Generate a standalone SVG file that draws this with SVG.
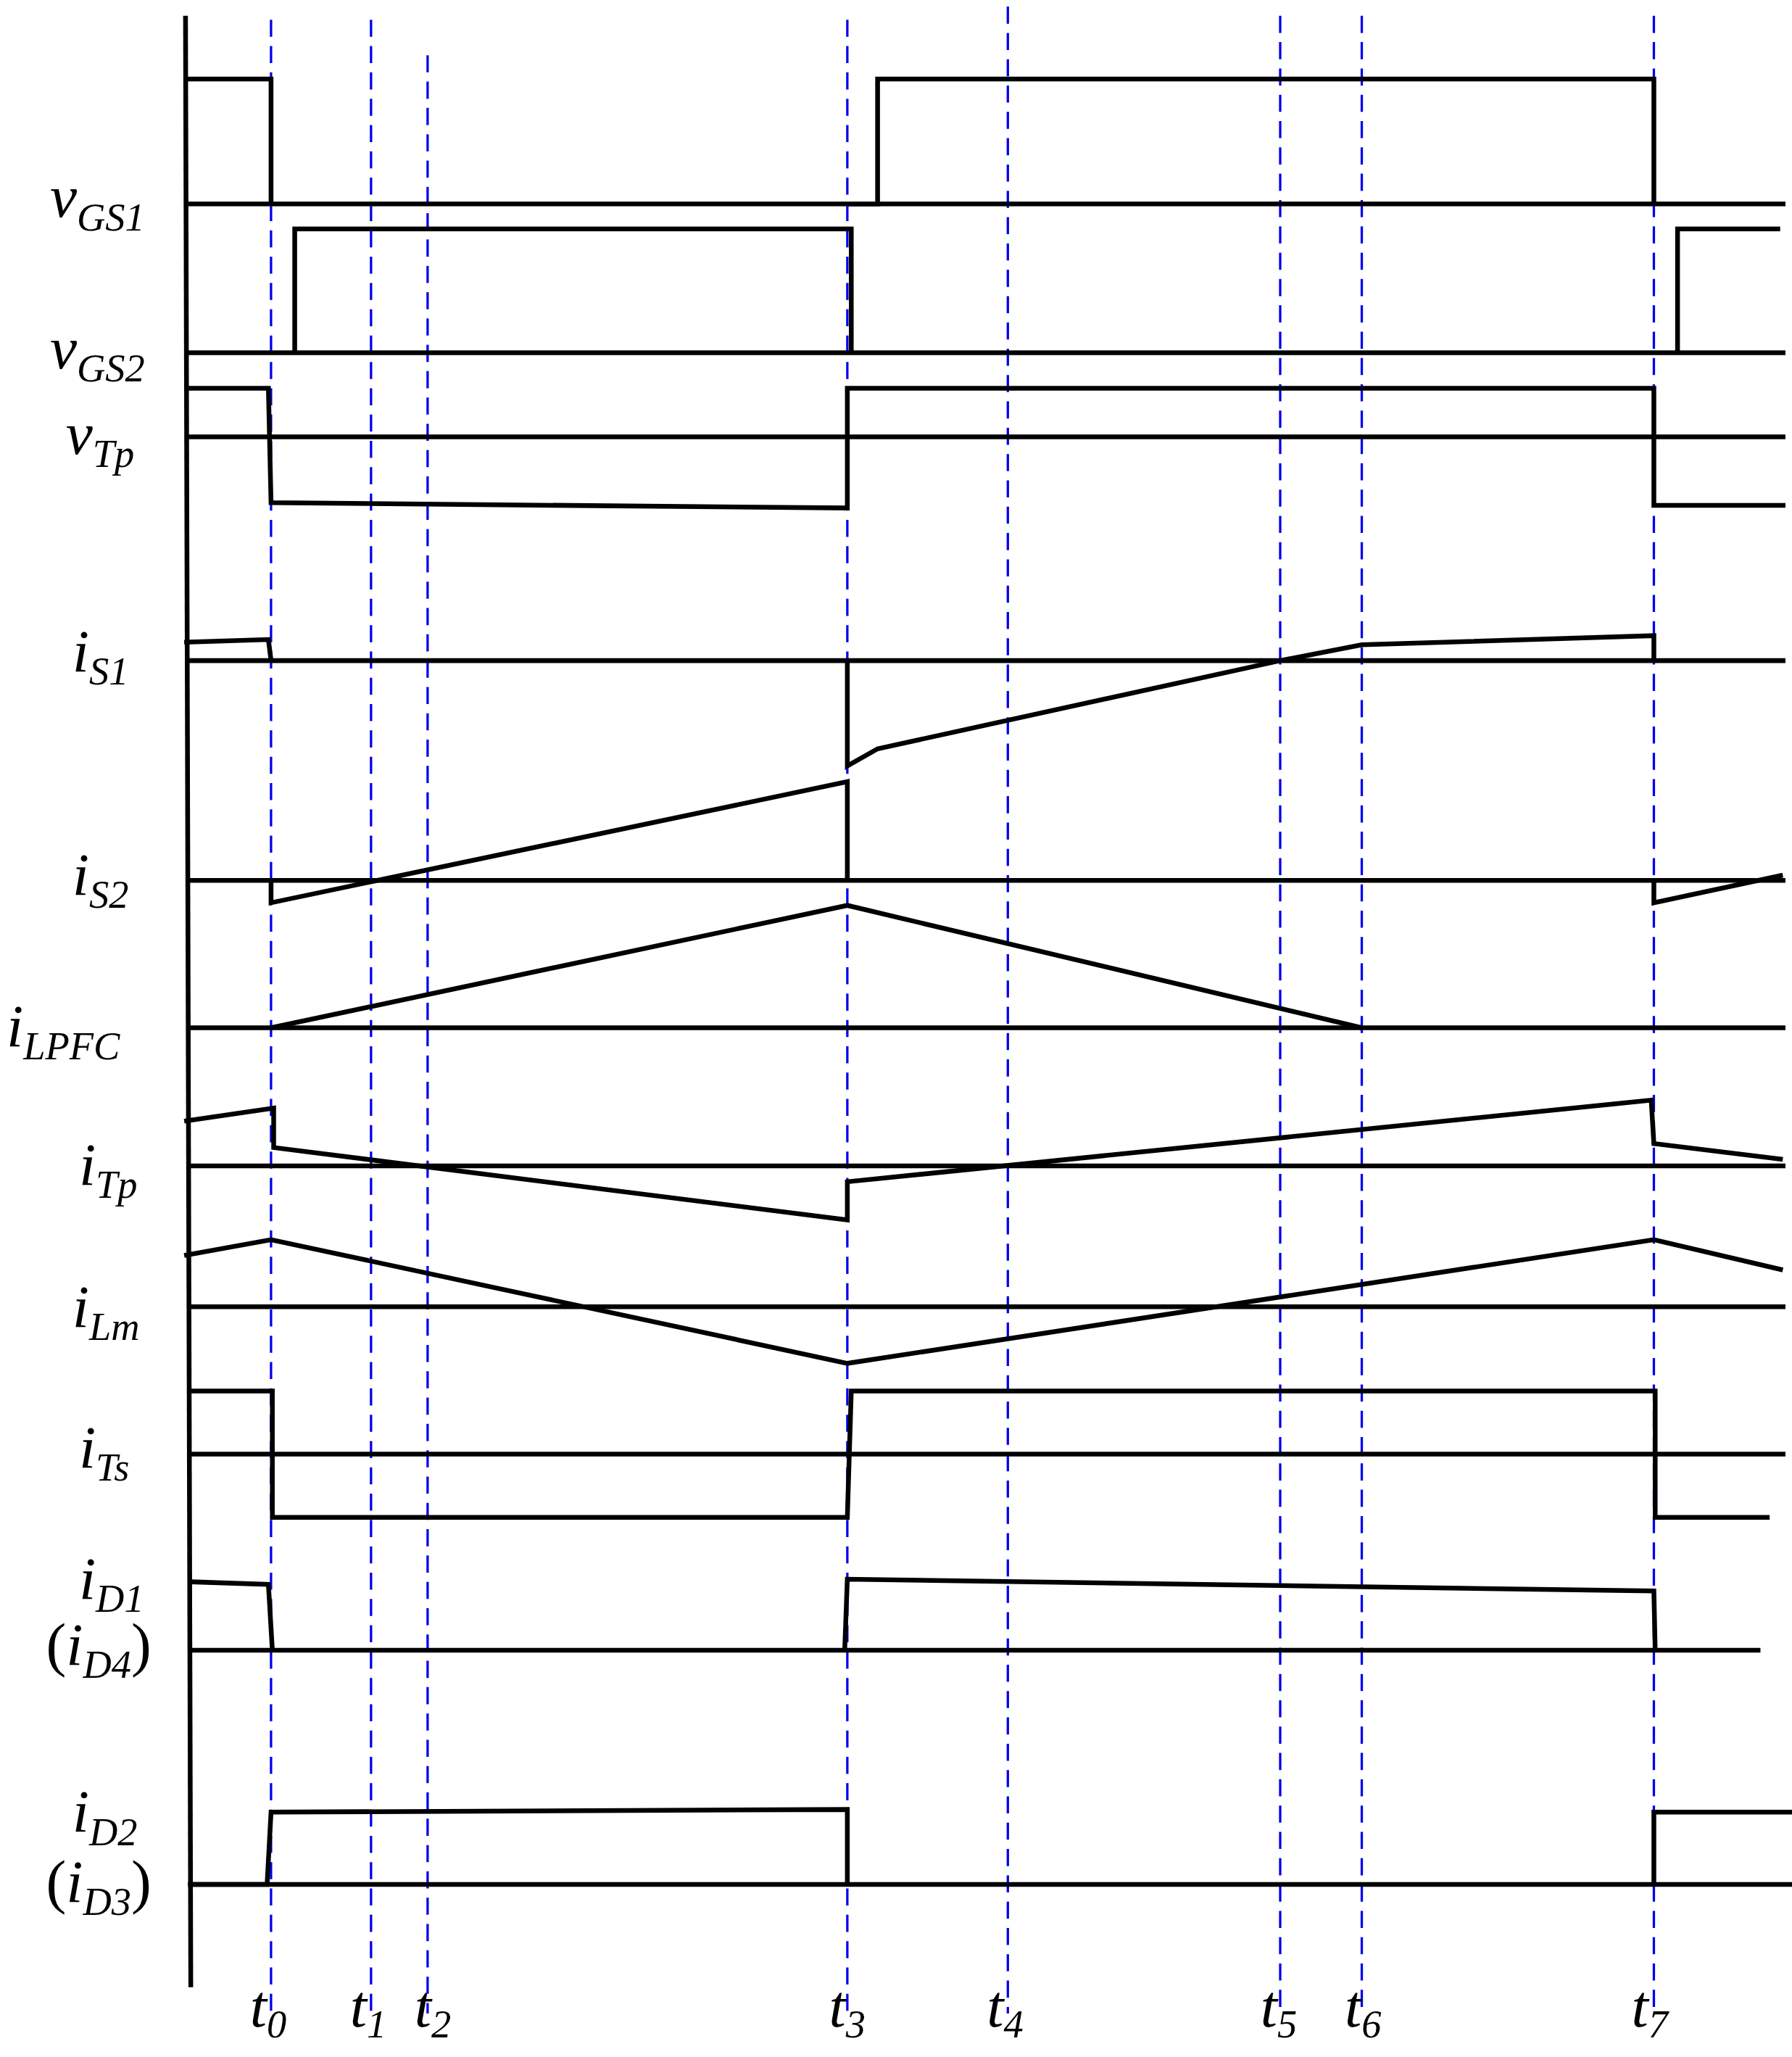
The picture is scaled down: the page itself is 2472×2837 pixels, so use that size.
<svg xmlns="http://www.w3.org/2000/svg" width="2472" height="2837" viewBox="0 0 2472 2837">
<style>
.w{fill:none;stroke:#000;stroke-width:3.6;stroke-linejoin:miter}
.b{stroke:#000;stroke-width:3.6}
.d{stroke:#0000ee;stroke-width:1.8;stroke-dasharray:13,7}
text{font-family:"Liberation Serif",serif;font-style:italic;font-size:46px;fill:#000}
.s{font-size:30px}
</style>
<rect width="2472" height="2837" fill="#fff"/>
<g transform="scale(1.815)">
<g id="grid">
<line class="d" x1="206" y1="15" x2="206" y2="1530"/>
<line class="d" x1="282" y1="15" x2="282" y2="1530"/>
<line class="d" x1="325" y1="42" x2="325" y2="1530"/>
<line class="d" x1="644" y1="15" x2="644" y2="1530"/>
<line class="d" x1="766" y1="5" x2="766" y2="1530"/>
<line class="d" x1="973" y1="12" x2="973" y2="1530"/>
<line class="d" x1="1035" y1="12" x2="1035" y2="1530"/>
<line class="d" x1="1257" y1="12" x2="1257" y2="1530"/>
</g>
<g id="axes">
<line class="b" x1="141" y1="12" x2="145" y2="1510"/>
<line class="b" x1="143" y1="155" x2="1357" y2="155"/>
<line class="b" x1="143" y1="268" x2="1357" y2="268"/>
<line class="b" x1="143" y1="332" x2="1357" y2="332"/>
<line class="b" x1="143" y1="502" x2="1357" y2="502"/>
<line class="b" x1="143" y1="669" x2="1357" y2="669"/>
<line class="b" x1="143" y1="781" x2="1357" y2="781"/>
<line class="b" x1="143" y1="886" x2="1357" y2="886"/>
<line class="b" x1="143" y1="993" x2="1357" y2="993"/>
<line class="b" x1="143" y1="1105" x2="1357" y2="1105"/>
<line class="b" x1="143" y1="1254" x2="1338" y2="1254"/>
<line class="b" x1="143" y1="1432" x2="1362" y2="1432"/>
</g>
<g id="waves">
<polyline class="w" points="140,60 206,60 206,155"/>
<polyline class="w" points="644,155 667,155 667,60 1257,60 1257,155"/>
<polyline class="w" points="224,268 224,174 647,174 647,268"/>
<polyline class="w" points="1275,268 1275,174 1353,174"/>
<polyline class="w" points="140,295 204,295 206,382 644,386 644,295 1257,295 1257,384 1357,384"/>
<polyline class="w" points="140,488 204,486 206,502"/>
<polyline class="w" points="644,502 644,582 667,569 973,502 1035,490 1257,483 1257,502"/>
<polyline class="w" points="206,669 206,686 644,594 644,669"/>
<polyline class="w" points="1257,669 1257,686 1355,665"/>
<polyline class="w" points="206,781 644,688 1035,781"/>
<polyline class="w" points="140,852 208,842 208,872 644,927 644,898 1255,836 1257,869 1355,881"/>
<polyline class="w" points="140,954 206,942 644,1036 1257,942 1355,965"/>
<polyline class="w" points="145,1057 207,1057 207,1153 644,1153 647,1057 1258,1057 1258,1153 1345,1153"/>
<polyline class="w" points="145,1202 204,1204 207,1254"/>
<polyline class="w" points="642,1254 644,1200 1257,1209 1258,1254"/>
<polyline class="w" points="143,1432 203,1432 206,1377 644,1375 644,1432"/>
<polyline class="w" points="1257,1432 1257,1377 1362,1377"/>
</g>
<g id="labels">
<text x="38" y="165">v<tspan class="s" dy="10">GS1</tspan></text>
<text x="38" y="280">v<tspan class="s" dy="10">GS2</tspan></text>
<text x="50" y="345">v<tspan class="s" dy="10">Tp</tspan></text>
<text x="55" y="510">i<tspan class="s" dy="10">S1</tspan></text>
<text x="55" y="680">i<tspan class="s" dy="10">S2</tspan></text>
<text x="5" y="795">i<tspan class="s" dy="10">LPFC</tspan></text>
<text x="60" y="900">i<tspan class="s" dy="10">Tp</tspan></text>
<text x="55" y="1008">i<tspan class="s" dy="10">Lm</tspan></text>
<text x="60" y="1115">i<tspan class="s" dy="10">Ts</tspan></text>
<text x="60" y="1215">i<tspan class="s" dy="10">D1</tspan></text>
<text x="35" y="1265"><tspan font-style="normal">(</tspan>i<tspan class="s" dy="10">D4</tspan><tspan dy="-10" font-style="normal">)</tspan></text>
<text x="55" y="1392">i<tspan class="s" dy="10">D2</tspan></text>
<text x="35" y="1445"><tspan font-style="normal">(</tspan>i<tspan class="s" dy="10">D3</tspan><tspan dy="-10" font-style="normal">)</tspan></text>
<text x="190" y="1540">t<tspan class="s" dy="8">0</tspan></text>
<text x="266" y="1540">t<tspan class="s" dy="8">1</tspan></text>
<text x="315" y="1540">t<tspan class="s" dy="8">2</tspan></text>
<text x="630" y="1540">t<tspan class="s" dy="8">3</tspan></text>
<text x="750" y="1540">t<tspan class="s" dy="8">4</tspan></text>
<text x="958" y="1540">t<tspan class="s" dy="8">5</tspan></text>
<text x="1022" y="1540">t<tspan class="s" dy="8">6</tspan></text>
<text x="1240" y="1540">t<tspan class="s" dy="8">7</tspan></text>
</g>
</g>
</svg>
